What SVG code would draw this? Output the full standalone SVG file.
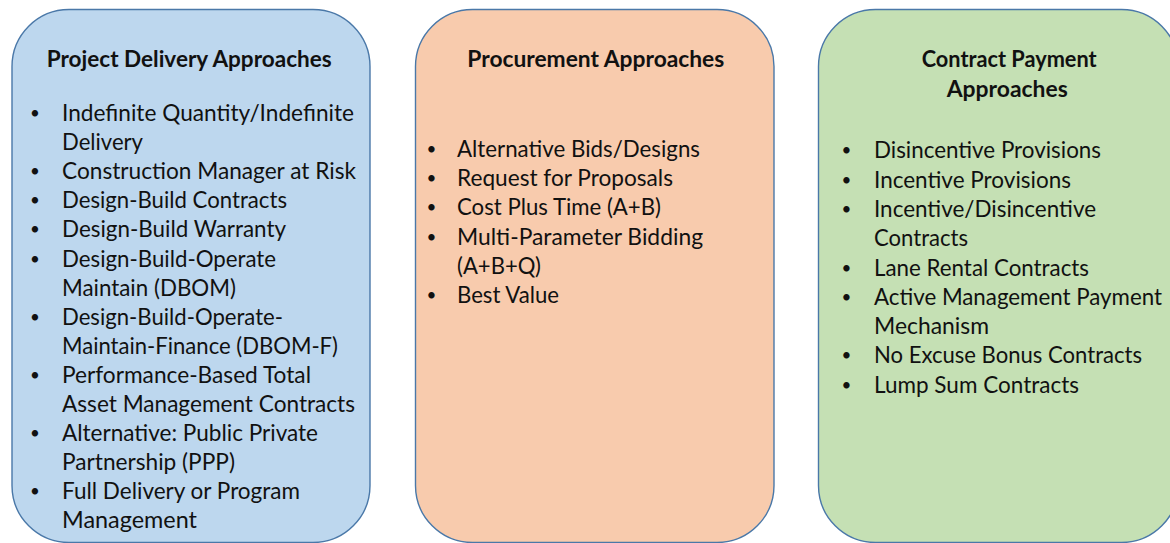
<svg xmlns="http://www.w3.org/2000/svg" width="1170" height="543" viewBox="0 0 1170 543">
<style>
.box{stroke:#4a78a8;stroke-width:1.4}
.blue{fill:#bdd7ee}
.orange{fill:#f8cbad}
.green{fill:#c5e0b4}
text{font-family:Lato,"Liberation Sans",sans-serif;fill:#111;}
.t{font-size:23.5px;font-weight:bold;}
.i{font-size:24px;}
.b{font-size:17px;text-anchor:middle;}
</style>
<rect width="1170" height="543" fill="#ffffff"/>
<g id="connectors"></g>
<g id="project-delivery">
<rect class="box blue" x="12" y="9.5" width="358" height="533" rx="57" ry="57"/>
<text class="t" x="46.7" y="66.7" textLength="285" lengthAdjust="spacingAndGlyphs">Project Delivery Approaches</text>
<text class="b" x="35" y="119">•</text>
<text class="i" x="62" y="121" textLength="292" lengthAdjust="spacingAndGlyphs">Indefinite Quantity/Indefinite</text>
<text class="i" x="62" y="150.1" textLength="81" lengthAdjust="spacingAndGlyphs">Delivery</text>
<text class="b" x="35" y="177.2">•</text>
<text class="i" x="62" y="179.2" textLength="294" lengthAdjust="spacingAndGlyphs">Construction Manager at Risk</text>
<text class="b" x="35" y="206.3">•</text>
<text class="i" x="62" y="208.3" textLength="225" lengthAdjust="spacingAndGlyphs">Design-Build Contracts</text>
<text class="b" x="35" y="235.4">•</text>
<text class="i" x="62" y="237.4" textLength="224" lengthAdjust="spacingAndGlyphs">Design-Build Warranty</text>
<text class="b" x="35" y="264.5">•</text>
<text class="i" x="62" y="266.5" textLength="214" lengthAdjust="spacingAndGlyphs">Design-Build-Operate</text>
<text class="i" x="62" y="295.6" textLength="174" lengthAdjust="spacingAndGlyphs">Maintain (DBOM)</text>
<text class="b" x="35" y="322.7">•</text>
<text class="i" x="62" y="324.7" textLength="221" lengthAdjust="spacingAndGlyphs">Design-Build-Operate-</text>
<text class="i" x="62" y="353.8" textLength="276" lengthAdjust="spacingAndGlyphs">Maintain-Finance (DBOM-F)</text>
<text class="b" x="35" y="380.9">•</text>
<text class="i" x="62" y="382.9" textLength="249" lengthAdjust="spacingAndGlyphs">Performance-Based Total</text>
<text class="i" x="62" y="412" textLength="293" lengthAdjust="spacingAndGlyphs">Asset Management Contracts</text>
<text class="b" x="35" y="439.1">•</text>
<text class="i" x="62" y="441.1" textLength="256" lengthAdjust="spacingAndGlyphs">Alternative: Public Private</text>
<text class="i" x="62" y="470.2" textLength="173" lengthAdjust="spacingAndGlyphs">Partnership (PPP)</text>
<text class="b" x="35" y="497.3">•</text>
<text class="i" x="62" y="499.3" textLength="238" lengthAdjust="spacingAndGlyphs">Full Delivery or Program</text>
<text class="i" x="62" y="528.4" textLength="135" lengthAdjust="spacingAndGlyphs">Management</text>
</g>
<g id="procurement">
<rect class="box orange" x="415.5" y="9.5" width="358.5" height="533" rx="57" ry="57"/>
<text class="t" x="467.3" y="66.7" textLength="257" lengthAdjust="spacingAndGlyphs">Procurement Approaches</text>
<text class="b" x="431.5" y="154.7">•</text>
<text class="i" x="457" y="156.7" textLength="243" lengthAdjust="spacingAndGlyphs">Alternative Bids/Designs</text>
<text class="b" x="431.5" y="184">•</text>
<text class="i" x="457" y="186" textLength="216" lengthAdjust="spacingAndGlyphs">Request for Proposals</text>
<text class="b" x="431.5" y="213.3">•</text>
<text class="i" x="457" y="215.3" textLength="204" lengthAdjust="spacingAndGlyphs">Cost Plus Time (A+B)</text>
<text class="b" x="431.5" y="242.6">•</text>
<text class="i" x="457" y="244.6" textLength="246" lengthAdjust="spacingAndGlyphs">Multi-Parameter Bidding</text>
<text class="i" x="457" y="273.9" textLength="84" lengthAdjust="spacingAndGlyphs">(A+B+Q)</text>
<text class="b" x="431.5" y="301.2">•</text>
<text class="i" x="457" y="303.2" textLength="102" lengthAdjust="spacingAndGlyphs">Best Value</text>
</g>
<g id="contract-payment">
<rect class="box green" x="818.5" y="9.5" width="360" height="533" rx="57" ry="57"/>
<text class="t" x="921.7" y="66.7" textLength="175" lengthAdjust="spacingAndGlyphs">Contract Payment</text>
<text class="t" x="946.7" y="96.7" textLength="121" lengthAdjust="spacingAndGlyphs">Approaches</text>
<text class="b" x="846.5" y="156.3">•</text>
<text class="i" x="874" y="158.3" textLength="227" lengthAdjust="spacingAndGlyphs">Disincentive Provisions</text>
<text class="b" x="846.5" y="185.6">•</text>
<text class="i" x="874" y="187.6" textLength="197" lengthAdjust="spacingAndGlyphs">Incentive Provisions</text>
<text class="b" x="846.5" y="214.9">•</text>
<text class="i" x="874" y="216.9" textLength="222" lengthAdjust="spacingAndGlyphs">Incentive/Disincentive</text>
<text class="i" x="874" y="246.2" textLength="94" lengthAdjust="spacingAndGlyphs">Contracts</text>
<text class="b" x="846.5" y="273.5">•</text>
<text class="i" x="874" y="275.5" textLength="215" lengthAdjust="spacingAndGlyphs">Lane Rental Contracts</text>
<text class="b" x="846.5" y="302.8">•</text>
<text class="i" x="874" y="304.8" textLength="288" lengthAdjust="spacingAndGlyphs">Active Management Payment</text>
<text class="i" x="874" y="334.1" textLength="115" lengthAdjust="spacingAndGlyphs">Mechanism</text>
<text class="b" x="846.5" y="361.4">•</text>
<text class="i" x="874" y="363.4" textLength="268" lengthAdjust="spacingAndGlyphs">No Excuse Bonus Contracts</text>
<text class="b" x="846.5" y="390.7">•</text>
<text class="i" x="874" y="392.7" textLength="205" lengthAdjust="spacingAndGlyphs">Lump Sum Contracts</text>
</g>
</svg>
